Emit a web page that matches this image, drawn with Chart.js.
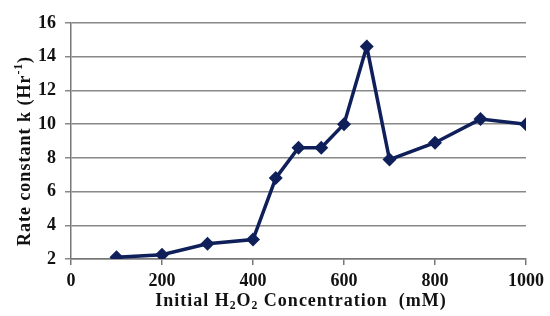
<!DOCTYPE html>
<html>
<head>
<meta charset="utf-8">
<script src="https://cdn.jsdelivr.net/npm/chart.js@4.4.0/dist/chart.umd.min.js"></script>
<style>
    html, body { margin: 0; padding: 0; background: #fff; }
    #wrap { width: 550px; height: 316px; }
</style>
</head>
<body>
<div id="wrap"><canvas id="kChart" width="550" height="316"></canvas></div>
<script>
// Datos
const concentraciones = [100, 200, 300, 400, 450, 500, 550, 600, 650, 700, 800, 900, 1000];
const constantesK = [2.1, 2.25, 2.9, 3.15, 6.8, 8.6, 8.6, 10.0, 14.6, 7.9, 8.9, 10.3, 10.0];
const xTicks = [0, 200, 400, 600, 800, 1000];
const yTicks = [2, 4, 6, 8, 10, 12, 14, 16];

const fuente = '"Liberation Serif", "Times New Roman", serif';
const colorLinea = '#0f1f5a';

// Dibuja un texto con partes en subíndice / superíndice
function drawRich(ctx, parts, size) {
    let total = 0;
    parts.forEach(p => {
        ctx.font = 'bold ' + (p.s ? size * 0.65 : size) + 'px ' + fuente;
        total += ctx.measureText(p.t).width;
    });
    let x = -total / 2;
    parts.forEach(p => {
        const sz = p.s ? size * 0.65 : size;
        ctx.font = 'bold ' + sz + 'px ' + fuente;
        const dy = p.s === 'sub' ? size * 0.25 : (p.s === 'sup' ? -size * 0.35 : 0);
        ctx.fillText(p.t, x, dy);
        x += ctx.measureText(p.t).width;
    });
}

// Plugin para títulos de ejes con subíndices
const titulosPlugin = {
    id: 'titulos',
    afterDraw: (chart) => {
        const ctx = chart.ctx;
        const area = chart.chartArea;
        ctx.save();
        ctx.fillStyle = '#111';
        ctx.textBaseline = 'middle';
        ctx.textAlign = 'left';
        ctx.letterSpacing = '1px';
        // eje X
        ctx.save();
        ctx.translate(301, 301);
        drawRich(ctx, [
            { t: 'Initial H' }, { t: '2', s: 'sub' }, { t: 'O' }, { t: '2', s: 'sub' },
            { t: ' Concentration  (mM)' }
        ], 18);
        ctx.restore();
        // eje Y
        ctx.save();
        ctx.translate(25, 151);
        ctx.rotate(-Math.PI / 2);
        drawRich(ctx, [
            { t: 'Rate constant k (Hr' }, { t: '-1', s: 'sup' }, { t: ')' }
        ], 18);
        ctx.restore();
        ctx.restore();
    }
};

document.addEventListener('DOMContentLoaded', function() {
    const ctx = document.getElementById('kChart').getContext('2d');
    new Chart(ctx, {
        type: 'line',
        data: {
            datasets: [{
                label: 'k',
                data: concentraciones.map((c, i) => ({ x: c, y: constantesK[i] })),
                borderColor: colorLinea,
                backgroundColor: colorLinea,
                borderWidth: 3.5,
                pointStyle: 'rectRot',
                pointRadius: 7,
                pointBorderWidth: 0,
                tension: 0
            }]
        },
        options: {
            responsive: false,
            animation: false,
            layout: { padding: { left: 0, top: 23, right: 23, bottom: 0 } },
            plugins: {
                legend: { display: false },
                tooltip: { enabled: false }
            },
            scales: {
                x: {
                    type: 'linear',
                    min: 0,
                    max: 1000,
                    afterBuildTicks: (scale) => { scale.ticks = xTicks.map(v => ({ value: v })); },
                    afterFit: (scale) => { scale.height = 57; },
                    grid: {
                        display: true,
                        drawOnChartArea: false,
                        drawTicks: true,
                        tickLength: 6,
                        color: '#777',
                        lineWidth: 1.5
                    },
                    border: { display: true, color: '#777', width: 1.5 },
                    ticks: {
                        color: '#111',
                        padding: 6,
                        maxRotation: 0,
                        callback: (v) => String(v),
                        font: { family: fuente, size: 18, weight: 'bold' }
                    }
                },
                y: {
                    min: 2,
                    max: 16,
                    afterBuildTicks: (scale) => { scale.ticks = yTicks.map(v => ({ value: v })); },
                    afterFit: (scale) => { scale.width = 71; },
                    grid: {
                        color: '#888',
                        lineWidth: 1.5,
                        tickLength: 6
                    },
                    border: { display: true, color: '#777', width: 1.5 },
                    ticks: {
                        color: '#111',
                        padding: 9,
                        font: { family: fuente, size: 18, weight: 'bold' }
                    }
                }
            }
        },
        plugins: [titulosPlugin]
    });
});
</script>
</body>
</html>
